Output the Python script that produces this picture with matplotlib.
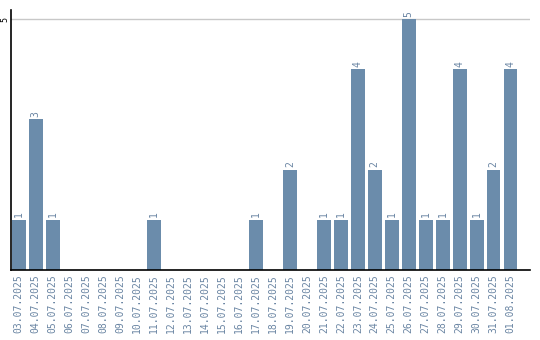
import matplotlib
matplotlib.use("Agg")
import matplotlib.pyplot as plt

dates = ['03.07.2025', '04.07.2025', '05.07.2025', '06.07.2025', '07.07.2025',
         '08.07.2025', '09.07.2025', '10.07.2025', '11.07.2025', '12.07.2025',
         '13.07.2025', '14.07.2025', '15.07.2025', '16.07.2025', '17.07.2025',
         '18.07.2025', '19.07.2025', '20.07.2025', '21.07.2025', '22.07.2025',
         '23.07.2025', '24.07.2025', '25.07.2025', '26.07.2025', '27.07.2025',
         '28.07.2025', '29.07.2025', '30.07.2025', '31.07.2025', '01.08.2025']
counts = [1, 3, 1, 0, 0, 0, 0, 0, 1, 0,
          0, 0, 0, 0, 1, 0, 2, 0, 1, 1,
          4, 2, 1, 5, 1, 1, 4, 1, 2, 4]

bar_color = '#6b8cab'
label_color = '#6a85a3'

fig = plt.figure(figsize=(5.4, 3.4), dpi=100)
ax = fig.add_axes([11 / 540, 70 / 340, 519 / 540, 260 / 340])

x = range(len(dates))
ax.bar(x, counts, width=0.82, color=bar_color, zorder=2)

for i, v in zip(x, counts):
    if v > 0:
        ax.text(i, v + 0.05, str(v), rotation=90, ha='center', va='bottom',
                fontsize=7, family='DejaVu Sans Mono', color=label_color)

ax.set_xlim(-0.45, len(dates) - 1 + 1.15)
ax.set_ylim(0, 5.18)
ax.set_xticks(list(x))
ax.set_xticklabels(dates, rotation=90, fontsize=7, family='DejaVu Sans Mono',
                   color=label_color)
ax.set_yticks([5])
ax.set_yticklabels(['5'], rotation=90, fontsize=6, family='DejaVu Sans Mono',
                   va='center')
ax.tick_params(axis='x', length=0, pad=3)
ax.tick_params(axis='y', length=0, pad=1)
ax.axhline(5, color='#c8c8c8', linewidth=1, zorder=1)

for s in ['top', 'right']:
    ax.spines[s].set_visible(False)
ax.spines['left'].set_linewidth(1.2)
ax.spines['bottom'].set_linewidth(1.2)

fig.savefig('out.png', dpi=100)
